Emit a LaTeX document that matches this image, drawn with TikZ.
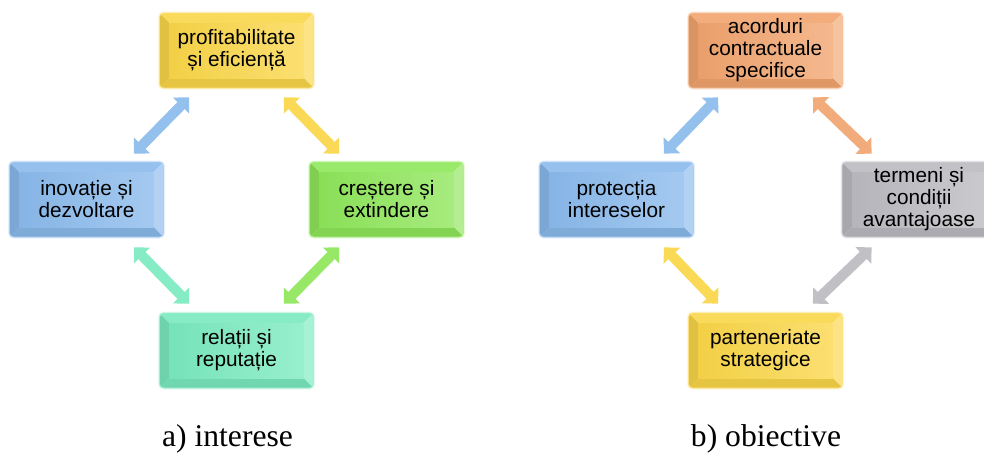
\documentclass[tikz,border=0pt]{standalone}
\usepackage{fontspec}
\newfontfamily\boxfont{Liberation Sans}
\newfontfamily\capfont{Liberation Serif}
\usetikzlibrary{calc}

\definecolor{cYellow}{RGB}{250,214,72}
\definecolor{cBlue}{RGB}{138,186,236}
\definecolor{cGreen}{RGB}{142,230,90}
\definecolor{cTeal}{RGB}{122,234,192}
\definecolor{cOrange}{RGB}{241,164,110}
\definecolor{cGray}{RGB}{186,186,192}

% bevelled box: four facets plus a shaded face
\tikzset{
  bbox/.style={
    rounded corners=4pt, minimum width=154pt, minimum height=75pt,
    inner sep=0pt, align=center,
    font=\boxfont\fontsize{20.8}{22}\selectfont,
    preaction={draw=#1!22!white, line width=3pt},
    draw=#1!70!white, line width=0.8pt,
    path picture={
      \coordinate (pNW) at (path picture bounding box.north west);
      \coordinate (pNE) at (path picture bounding box.north east);
      \coordinate (pSW) at (path picture bounding box.south west);
      \coordinate (pSE) at (path picture bounding box.south east);
      \coordinate (iNW) at ([xshift=10pt,yshift=-10pt]pNW);
      \coordinate (iNE) at ([xshift=-10pt,yshift=-10pt]pNE);
      \coordinate (iSW) at ([xshift=10pt,yshift=10pt]pSW);
      \coordinate (iSE) at ([xshift=-10pt,yshift=10pt]pSE);
      \fill[sharp corners, #1!90!black] (pNW) -- (pSW) -- (iSW) -- (iNW) -- cycle;
      \fill[sharp corners, #1!90!white] (pNW) -- (pNE) -- (iNE) -- (iNW) -- cycle;
      \fill[sharp corners, #1!66!white] (pNE) -- (pSE) -- (iSE) -- (iNE) -- cycle;
      \fill[sharp corners, #1!92!black] (pSW) -- (pSE) -- (iSE) -- (iSW) -- cycle;
      \shade[sharp corners, left color=#1!97!black, right color=#1!78!white]
        (iNW) rectangle (iSE);
    }
  },
  caption/.style={font=\capfont\fontsize{31.6}{34}\selectfont, anchor=base, inner sep=0pt}
}

% double-headed block arrow between two points
\newcommand\dblarrow[3]{%
  \coordinate (qA) at (#2);
  \coordinate (qB) at (#3);
  \coordinate (qA1) at ($(qA)!11.5pt!(qB)$);
  \coordinate (qB1) at ($(qB)!11.5pt!(qA)$);
  \fill[#1] (qA) -- ($(qA1)!11.5pt!90:(qB)$) -- ($(qA1)!5pt!90:(qB)$)
    -- ($(qB1)!5pt!-90:(qA)$) -- ($(qB1)!11.5pt!-90:(qA)$) -- (qB)
    -- ($(qB1)!11.5pt!90:(qA)$) -- ($(qB1)!5pt!90:(qA)$)
    -- ($(qA1)!5pt!-90:(qB)$) -- ($(qA1)!11.5pt!-90:(qB)$) -- cycle;
}

\begin{document}
\begin{tikzpicture}[x=1pt,y=-1pt]
\useasboundingbox (0,0) rectangle (984,453);
\clip (0,0) rectangle (984,453);
\fill[white] (0,0) rectangle (984,453);

% a) interests
\node[bbox=cYellow] (aT) at (236.5,50.5) {profitabilitate\\și eficiență};
\node[bbox=cBlue]   (aL) at (86.5,199.5) {inovație și\\dezvoltare};
\node[bbox=cGreen]  (aR) at (386.5,199.5) {creștere și\\extindere};
\node[bbox=cTeal]   (aB) at (236.5,350.5) {relații și\\reputație};

\dblarrow{cBlue!92!white}{[xshift=30pt,yshift=-9pt]aT.south west}{[xshift=-30pt,yshift=8pt]aL.north east}
\dblarrow{cYellow!92!white}{[xshift=-30pt,yshift=-9pt]aT.south east}{[xshift=30pt,yshift=8pt]aR.north west}
\dblarrow{cTeal!92!white}{[xshift=-30pt,yshift=-10pt]aL.south east}{[xshift=30pt,yshift=9pt]aB.north west}
\dblarrow{cGreen!92!white}{[xshift=30pt,yshift=-10pt]aR.south west}{[xshift=-30pt,yshift=9pt]aB.north east}

\node[caption] (capA) at (227.5,446) {a) interese};

% b) objectives
\node[bbox=cOrange] (bT) at (765.5,50.5) {acorduri\\contractuale\\specifice};
\node[bbox=cBlue]   (bL) at (616.5,199.5) {protecția\\intereselor};
\node[bbox=cGray]   (bR) at (919,199.5) {termeni și\\condiții\\avantajoase};
\node[bbox=cYellow] (bB) at (765.5,350.5) {parteneriate\\strategice};

\dblarrow{cBlue!92!white}{[xshift=30pt,yshift=-9pt]bT.south west}{[xshift=-30pt,yshift=8pt]bL.north east}
\dblarrow{cOrange!92!white}{[xshift=-30pt,yshift=-9pt]bT.south east}{[xshift=30pt,yshift=8pt]bR.north west}
\dblarrow{cYellow!92!white}{[xshift=-30pt,yshift=-10pt]bL.south east}{[xshift=30pt,yshift=9pt]bB.north west}
\dblarrow{cGray!92!white}{[xshift=30pt,yshift=-10pt]bR.south west}{[xshift=-30pt,yshift=9pt]bB.north east}

\node[caption] (capB) at (766,446) {b) obiective};
\end{tikzpicture}
\end{document}
